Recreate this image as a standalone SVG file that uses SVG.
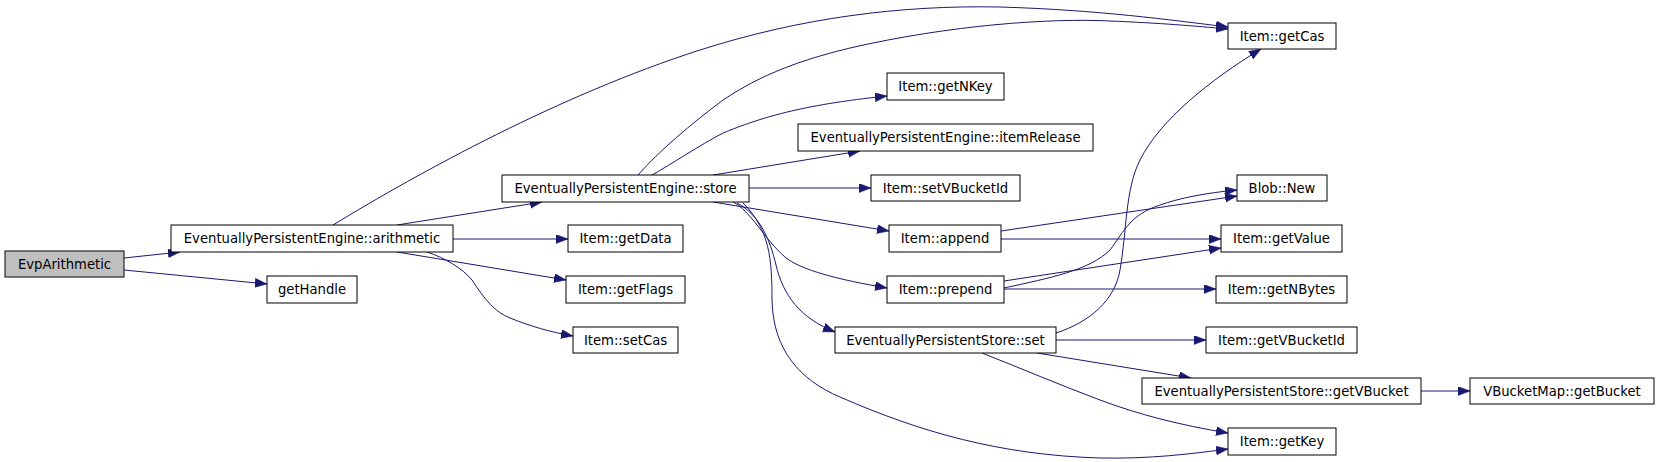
<svg xmlns="http://www.w3.org/2000/svg" width="1659" height="462" viewBox="0 0 1659 462">
<style>
.node rect{fill:#ffffff;stroke:#000000;stroke-width:1}
.node.root rect{fill:#bfbfbf}
.node text{font-family:"DejaVu Sans",sans-serif;font-size:13.2px;fill:#000000;text-anchor:middle}
.edges path{fill:none;stroke:#191970;stroke-width:1;marker-end:url(#arr)}
</style>
<defs>
<marker id="arr" markerUnits="userSpaceOnUse" markerWidth="13" markerHeight="10" refX="12" refY="4.5" orient="auto">
<path d="M0,0 L12,4.5 L0,9 z" fill="#191970" stroke="#191970" stroke-width="0.5"/>
</marker>
</defs>
<rect x="0" y="0" width="1659" height="462" fill="#ffffff"/>
<g class="edges" id="edges">
<path d="M124,258 L180,252"/>
<path d="M124,270 L267,284"/>
<path d="M333,225 C420,172 560,95 700,50 C800,18 900,5 1000,7 C1100,10 1170,20 1228,27"/>
<path d="M397,225 L542,202"/>
<path d="M453,239 L568,239"/>
<path d="M397,252 L566,280"/>
<path d="M427,252 C445,258 462,268 472,280 C485,300 495,312 510,318 C530,326 550,332 573,336"/>
<path d="M638,175 C660,150 690,125 723,100 C760,75 800,60 850,48 C950,25 1050,18 1110,21 C1160,23 1195,26 1228,29"/>
<path d="M652,175 C670,165 700,145 723,133 C760,118 800,105 887,96"/>
<path d="M713,175 L860,151"/>
<path d="M749,188 L871,188"/>
<path d="M713,202 L889,231"/>
<path d="M733,202 C750,210 765,240 785,257 C800,270 840,280 887,288"/>
<path d="M737,203 C760,215 770,240 776,265 C783,295 800,318 835,332"/>
<path d="M743,203 C770,230 772,260 772,300 C773,350 800,380 840,397 C920,432 1000,455 1100,458 C1150,459 1190,454 1228,449"/>
<path d="M1001,231 L1237,196"/>
<path d="M1001,239 L1221,239"/>
<path d="M1004,288 C1050,278 1090,270 1110,250 C1125,230 1130,215 1160,205 C1180,198 1205,193 1237,190"/>
<path d="M1004,281 L1221,248"/>
<path d="M1004,289 L1216,289"/>
<path d="M1056,333 C1090,322 1115,300 1120,270 C1127,230 1125,190 1140,160 C1160,120 1210,80 1261,49"/>
<path d="M1056,340 L1206,340"/>
<path d="M1037,353 L1191,378"/>
<path d="M982,353 C1020,368 1060,385 1100,400 C1140,415 1180,425 1228,433"/>
<path d="M1421,391 L1470,391"/>
</g>
<g class="node root" id="n0"><rect x="5" y="251" width="119" height="26"/><text x="64.5" y="269">EvpArithmetic</text></g>
<g class="node" id="n1"><rect x="171" y="225" width="282" height="27"/><text x="312" y="243">EventuallyPersistentEngine::arithmetic</text></g>
<g class="node" id="n2"><rect x="267" y="276" width="90" height="27"/><text x="312" y="294">getHandle</text></g>
<g class="node" id="n3"><rect x="502" y="175" width="247" height="27"/><text x="625.5" y="193">EventuallyPersistentEngine::store</text></g>
<g class="node" id="n4"><rect x="568" y="225" width="115" height="27"/><text x="625.5" y="243">Item::getData</text></g>
<g class="node" id="n5"><rect x="566" y="276" width="119" height="27"/><text x="625.5" y="294">Item::getFlags</text></g>
<g class="node" id="n6"><rect x="573" y="327" width="105" height="26"/><text x="625.5" y="345">Item::setCas</text></g>
<g class="node" id="n7"><rect x="1228" y="23" width="108" height="26"/><text x="1282" y="41">Item::getCas</text></g>
<g class="node" id="n8"><rect x="887" y="73" width="117" height="27"/><text x="945.5" y="91">Item::getNKey</text></g>
<g class="node" id="n9"><rect x="798" y="124" width="295" height="27"/><text x="945.5" y="142">EventuallyPersistentEngine::itemRelease</text></g>
<g class="node" id="n10"><rect x="871" y="175" width="149" height="26"/><text x="945.5" y="193">Item::setVBucketId</text></g>
<g class="node" id="n11"><rect x="889" y="225" width="112" height="27"/><text x="945" y="243">Item::append</text></g>
<g class="node" id="n12"><rect x="887" y="276" width="117" height="27"/><text x="945.5" y="294">Item::prepend</text></g>
<g class="node" id="n13"><rect x="835" y="327" width="221" height="26"/><text x="945.5" y="345">EventuallyPersistentStore::set</text></g>
<g class="node" id="n14"><rect x="1237" y="175" width="90" height="26"/><text x="1282" y="193">Blob::New</text></g>
<g class="node" id="n15"><rect x="1221" y="225" width="121" height="27"/><text x="1281.5" y="243">Item::getValue</text></g>
<g class="node" id="n16"><rect x="1216" y="276" width="131" height="27"/><text x="1281.5" y="294">Item::getNBytes</text></g>
<g class="node" id="n17"><rect x="1206" y="327" width="151" height="26"/><text x="1281.5" y="345">Item::getVBucketId</text></g>
<g class="node" id="n18"><rect x="1142" y="378" width="279" height="26"/><text x="1281.5" y="396">EventuallyPersistentStore::getVBucket</text></g>
<g class="node" id="n19"><rect x="1470" y="378" width="184" height="26"/><text x="1562" y="396">VBucketMap::getBucket</text></g>
<g class="node" id="n20"><rect x="1228" y="428" width="108" height="27"/><text x="1282" y="446">Item::getKey</text></g>
</svg>
